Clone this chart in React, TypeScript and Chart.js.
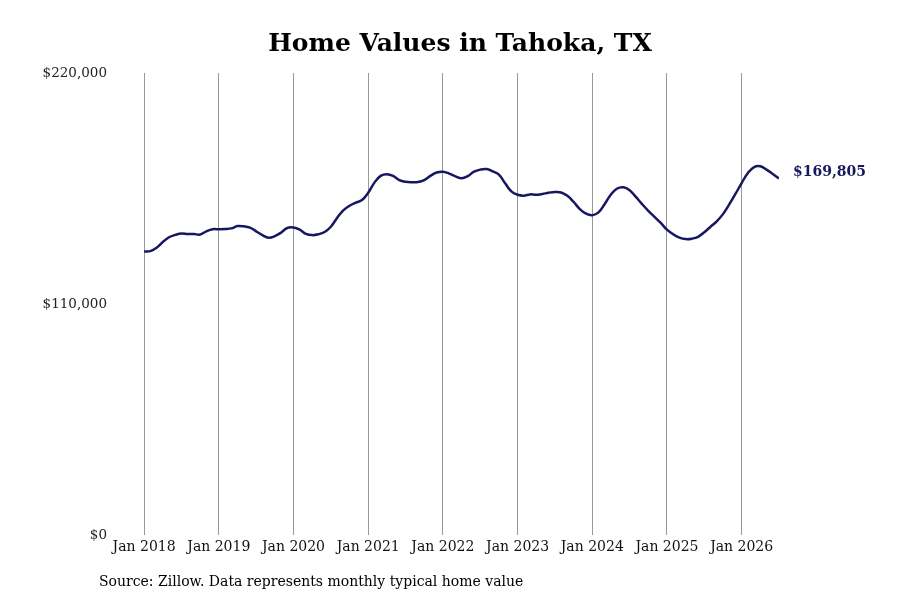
import { useEffect, useRef } from "react"
import { Chart, registerables } from "chart.js"

Chart.register(...registerables)

// monthly typical home value, Jan 2018 .. Jul 2026
const homeValues = [
  135000, 135200, 136800, 139500, 141800, 142900, 143600, 143300, 143300, 143100, 144600, 145600,
  145600, 145700, 146000, 147100, 147000, 146400, 144600, 142800, 141500, 142300, 144000, 146200,
  146400, 145400, 143400, 142800, 143200, 144300, 146800, 151000, 154600, 156800, 158300, 159500,
  163000, 167800, 171000, 171800, 171000, 169000, 168200, 168000, 168100, 169000, 171000, 172600,
  173000, 172100, 170800, 169900, 170900, 173000, 174000, 174300, 173200, 171600, 167500, 163600,
  162000, 161600, 162200, 162000, 162400, 163000, 163300, 163100, 161500, 158600, 155200, 153000,
  152300, 153600, 157600, 162100, 165000, 165600, 164200, 161000, 157600, 154400, 151500, 148600,
  145400, 143200, 141600, 140900, 141100, 142000, 144200, 146800, 149400, 152800, 157400, 162400,
  167600, 172400, 175200, 175600, 174000, 171900, 169805,
]
const yearTicks = [0, 12, 24, 36, 48, 60, 72, 84, 96]
const yearLabels = ["Jan 2018", "Jan 2019", "Jan 2020", "Jan 2021", "Jan 2022", "Jan 2023", "Jan 2024", "Jan 2025", "Jan 2026"]
const valueTicks = [0, 110000, 220000]

const title = "Home Values in Tahoka, TX"
const source = "Source: Zillow. Data represents monthly typical home value"
const lineColor = "#17175f"
const serif = "'DejaVu Serif', serif"

const money = (v: number) => "$" + Math.round(v).toLocaleString("en-US")

const textPlugin = {
  id: "texts",
  afterDraw(chart: Chart) {
    const { ctx } = chart
    ctx.save()
    ctx.fillStyle = "#000"
    ctx.font = `bold 25px ${serif}`
    ctx.textAlign = "center"
    ctx.textBaseline = "middle"
    ctx.fillText(title, 460, 44)

    ctx.font = `14px ${serif}`
    ctx.textAlign = "left"
    ctx.fillText(source, 99, 582)

    const meta = chart.getDatasetMeta(0)
    const last = meta.data[meta.data.length - 1]
    if (last) {
      ctx.fillStyle = lineColor
      ctx.font = `bold 14px ${serif}`
      ctx.fillText(money(homeValues[homeValues.length - 1]), last.x + 14, last.y - 6)
    }
    ctx.restore()
  },
}

export default function App() {
  const canvasRef = useRef<HTMLCanvasElement | null>(null)

  useEffect(() => {
    if (!canvasRef.current) return
    const chart = new Chart(canvasRef.current, {
      type: "line",
      data: {
        datasets: [
          {
            data: homeValues.map((v, i) => ({ x: i, y: v })),
            borderColor: lineColor,
            borderWidth: 2.5,
            pointRadius: 0,
            tension: 0.4,
            fill: false,
          },
        ],
      },
      options: {
        animation: false,
        responsive: false,
        devicePixelRatio: 1,
        layout: { padding: { top: 73, right: 121, bottom: 45, left: 0 } },
        plugins: {
          legend: { display: false },
          tooltip: { enabled: false },
          title: { display: false },
        },
        scales: {
          x: {
            type: "linear",
            min: -5,
            max: 102,
            afterBuildTicks: (scale) => {
              scale.ticks = yearTicks.map((v) => ({ value: v }))
            },
            afterFit: (scale) => {
              scale.height = 20
            },
            grid: { display: true, color: "#999", lineWidth: 1, drawTicks: false },
            border: { display: false },
            ticks: {
              padding: 4,
              maxRotation: 0,
              autoSkip: false,
              color: "#111",
              font: { family: serif, size: 14 },
              callback: (v) => yearLabels[yearTicks.indexOf(Number(v))] ?? "",
            },
          },
          y: {
            min: 0,
            max: 220000,
            afterBuildTicks: (scale) => {
              scale.ticks = valueTicks.map((v) => ({ value: v }))
            },
            afterFit: (scale) => {
              scale.width = 113
            },
            grid: { display: false, drawTicks: false },
            border: { display: false },
            ticks: {
              padding: 6,
              color: "#222",
              font: { family: serif, size: 13.5 },
              callback: (v) => money(Number(v)),
            },
          },
        },
      },
      plugins: [textPlugin],
    })
    return () => chart.destroy()
  }, [])

  return (
    <div style={{ position: "fixed", left: 0, top: 0, width: 900, height: 600, background: "#fff" }}>
      <canvas ref={canvasRef} width={900} height={600} />
    </div>
  )
}
